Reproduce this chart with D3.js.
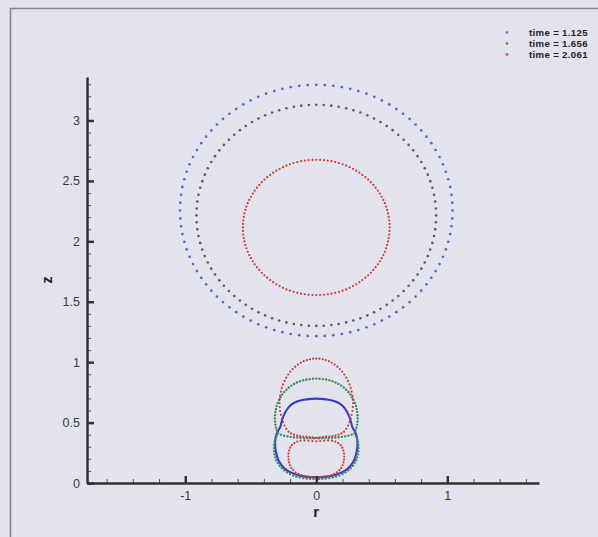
<!DOCTYPE html>
<html>
<head>
<meta charset="utf-8">
<script src="https://cdn.jsdelivr.net/npm/d3@7/dist/d3.min.js"></script>
<style>
  html, body { margin: 0; padding: 0; background: #e3e3ed; }
  svg { display: block; }
</style>
</head>
<body>
<svg id="chart" width="598" height="537"></svg>
<script>
// Interface contours (r >= 0 half; the r < 0 half is the mirror image about the axis)
const timeLabels = ["time = 1.125", "time = 1.656", "time = 2.061"];
const xTickValues = [-1, 0, 1];
const yTickValues = [0, 0.5, 1, 1.5, 2, 2.5, 3];

// time = 1.125 : outer front and near-wall bubble
const blueOuterR = [0,0.065,0.130,0.195,0.259,0.321,0.383,0.443,0.501,0.557,0.611,0.663,0.712,0.758,0.801,0.841,0.878,0.911,0.941,0.967,0.989,1.007,1.022,1.032,1.038,1.040,1.038,1.032,1.022,1.007,0.989,0.967,0.941,0.911,0.878,0.841,0.801,0.758,0.712,0.663,0.611,0.557,0.501,0.443,0.383,0.321,0.259,0.195,0.130,0.065,0];
const blueOuterZ = [3.295,3.293,3.287,3.277,3.262,3.244,3.222,3.196,3.166,3.133,3.096,3.056,3.013,2.967,2.918,2.866,2.812,2.756,2.698,2.638,2.576,2.514,2.450,2.385,2.320,2.255,2.190,2.125,2.060,1.996,1.934,1.872,1.812,1.754,1.698,1.644,1.592,1.543,1.497,1.454,1.414,1.377,1.344,1.314,1.288,1.266,1.248,1.233,1.223,1.217,1.215];
const blueInnerR = [0,0.060,0.122,0.160,0.190,0.213,0.231,0.245,0.256,0.264,0.270,0.275,0.287,0.301,0.310,0.314,0.314,0.311,0.304,0.295,0.282,0.264,0.243,0.220,0.190,0.160,0.120,0.084,0.042,0];
const blueInnerZ = [0.698,0.694,0.683,0.668,0.648,0.624,0.595,0.566,0.537,0.508,0.483,0.462,0.440,0.412,0.378,0.344,0.309,0.275,0.240,0.206,0.175,0.146,0.122,0.102,0.086,0.072,0.060,0.053,0.049,0.047];

// time = 1.656
const grayOuterR = [0,0.057,0.115,0.171,0.228,0.283,0.337,0.390,0.441,0.490,0.538,0.583,0.626,0.667,0.705,0.740,0.773,0.802,0.828,0.851,0.870,0.886,0.899,0.908,0.913,0.915,0.913,0.908,0.899,0.886,0.870,0.851,0.828,0.802,0.773,0.740,0.705,0.667,0.626,0.583,0.538,0.490,0.441,0.390,0.337,0.283,0.228,0.171,0.115,0.057,0];
const grayOuterZ = [3.130,3.128,3.123,3.114,3.101,3.085,3.066,3.043,3.017,2.988,2.955,2.920,2.882,2.841,2.798,2.753,2.705,2.656,2.605,2.552,2.498,2.443,2.386,2.330,2.272,2.215,2.158,2.100,2.044,1.987,1.932,1.878,1.825,1.774,1.725,1.677,1.632,1.589,1.548,1.510,1.475,1.442,1.413,1.387,1.364,1.345,1.329,1.316,1.307,1.302,1.300];
const greenCapR = [0,0.025,0.050,0.075,0.100,0.124,0.147,0.169,0.190,0.210,0.228,0.245,0.260,0.273,0.284,0.294,0.302,0.308,0.312,0.315,0.316,0.315,0.312,0.307,0.300,0.292,0.270,0.245,0.220,0.195,0.170,0.145,0.120,0.095,0.070,0.045,0.020];
const greenCapZ = [0.864,0.863,0.860,0.856,0.850,0.842,0.832,0.820,0.806,0.790,0.772,0.753,0.732,0.710,0.687,0.663,0.638,0.613,0.587,0.561,0.535,0.509,0.483,0.458,0.434,0.412,0.400,0.392,0.386,0.382,0.379,0.377,0.375,0.373,0.372,0.371,0.370];
const greenLoopR = [0.302,0.311,0.317,0.321,0.322,0.321,0.318,0.312,0.304,0.293,0.279,0.263,0.244,0.223,0.200,0.176,0.151,0.125,0.099,0.073,0.047,0.021];
const greenLoopZ = [0.390,0.366,0.341,0.315,0.289,0.263,0.237,0.212,0.188,0.165,0.143,0.123,0.105,0.089,0.075,0.063,0.054,0.047,0.041,0.037,0.035,0.034];

// time = 2.061
const redOuterR = [0,0.029,0.059,0.088,0.116,0.145,0.173,0.201,0.228,0.254,0.280,0.305,0.329,0.352,0.375,0.396,0.416,0.435,0.453,0.470,0.485,0.499,0.512,0.523,0.533,0.541,0.548,0.553,0.557,0.559,0.560,0.559,0.557,0.553,0.548,0.541,0.533,0.523,0.512,0.499,0.485,0.470,0.453,0.435,0.416,0.396,0.375,0.352,0.329,0.305,0.280,0.254,0.228,0.201,0.173,0.145,0.116,0.088,0.059,0.029,0];
const redOuterZ = [2.675,2.674,2.672,2.668,2.663,2.656,2.648,2.638,2.627,2.614,2.600,2.585,2.568,2.550,2.531,2.511,2.490,2.467,2.444,2.420,2.395,2.369,2.343,2.316,2.288,2.260,2.231,2.203,2.174,2.144,2.115,2.086,2.056,2.027,1.999,1.970,1.942,1.914,1.887,1.861,1.835,1.810,1.786,1.763,1.740,1.719,1.699,1.680,1.662,1.645,1.630,1.615,1.602,1.592,1.582,1.574,1.567,1.562,1.558,1.556,1.555];
const redCapR = [0,0.024,0.049,0.072,0.096,0.118,0.140,0.161,0.180,0.198,0.214,0.229,0.242,0.254,0.263,0.270,0.276,0.279,0.280,0.279,0.276,0.270,0.263,0.254,0.242,0.229,0.212,0.192,0.170,0.147,0.124,0.100,0.076,0.052,0.028,0.006];
const redCapZ = [1.030,1.029,1.024,1.017,1.008,0.995,0.980,0.963,0.943,0.922,0.898,0.872,0.845,0.816,0.787,0.756,0.724,0.692,0.660,0.628,0.596,0.564,0.533,0.504,0.475,0.448,0.425,0.410,0.400,0.393,0.388,0.385,0.383,0.381,0.378,0.374];
const redLoopR = [0,0.030,0.060,0.090,0.120,0.145,0.168,0.186,0.199,0.207,0.212,0.213,0.212,0.208,0.201,0.190,0.176,0.158,0.137,0.114,0.090,0.065,0.040,0.015];
const redLoopZ = [0.345,0.347,0.350,0.352,0.350,0.343,0.330,0.313,0.292,0.268,0.244,0.219,0.194,0.170,0.147,0.125,0.106,0.089,0.075,0.065,0.058,0.053,0.050,0.049];

const W = 598, H = 537;
const svg = d3.select("#chart");
const font = "'Liberation Sans', Arial, Helvetica, sans-serif";

const x = d3.scaleLinear().domain([-1.75, 1.70]).range([87, 539]);
const y = d3.scaleLinear().domain([0, 3.36]).range([483, 77]);

// page background and frame
svg.append("rect").attr("width", W).attr("height", H).attr("fill", "#e3e3ed");
svg.append("path").attr("d", `M10.5,${H} V8.5 H${W}`)
  .attr("fill", "none").attr("stroke", "#85858e").attr("stroke-width", 1.6);

// pair up the half contour and add its mirror image (r -> -r)
function halfPoints(rs, zs) { return rs.map((r, i) => [r, zs[i]]); }
function mirroredDots(rs, zs) {
  const pts = halfPoints(rs, zs);
  return pts.concat(pts.filter(p => p[0] > 0).map(p => [-p[0], p[1]]));
}
function closedLoop(rs, zs) {
  const pts = halfPoints(rs, zs);
  const back = pts.filter(p => p[0] > 0).reverse().map(p => [-p[0], p[1]]);
  return pts.concat(back);
}

const plot = svg.append("g");

function drawDots(pts, color, rad) {
  plot.append("g").selectAll("circle").data(pts).join("circle")
    .attr("cx", d => x(d[0])).attr("cy", d => y(d[1]))
    .attr("r", rad).attr("fill", color);
}

// time = 1.125
drawDots(mirroredDots(blueOuterR, blueOuterZ), "#6464cf", 1.35);
plot.append("path")
  .datum(closedLoop(blueInnerR, blueInnerZ))
  .attr("d", d3.line().x(d => x(d[0])).y(d => y(d[1])).curve(d3.curveCatmullRomClosed))
  .attr("fill", "none").attr("stroke", "#3a3ac4").attr("stroke-width", 2.1);

// time = 1.656
drawDots(mirroredDots(grayOuterR, grayOuterZ), "#5c5c66", 1.3);
drawDots(mirroredDots(greenCapR, greenCapZ), "#3f8a5e", 1.2);
drawDots(mirroredDots(greenLoopR, greenLoopZ), "#3f8a5e", 1.2);

// time = 2.061
drawDots(mirroredDots(redOuterR, redOuterZ), "#d43a3a", 1.1);
drawDots(mirroredDots(redCapR, redCapZ), "#d43a3a", 1.1);
drawDots(mirroredDots(redLoopR, redLoopZ), "#d43a3a", 1.1);

// axes
const axisColor = "#333";
const plainNumber = d => String(d);
function styleAxis(g) {
  g.selectAll("path.domain").attr("stroke", axisColor).attr("stroke-width", 2.5);
  g.selectAll(".tick line").attr("stroke", axisColor);
  g.selectAll(".tick text").attr("fill", "#3a3a3a").attr("font-family", font).attr("font-size", 12.5);
}

const yMinor = d3.range(1, 34).map(i => i / 10).filter(v => Math.abs(v * 2 - Math.round(v * 2)) > 1e-6);
const xMinor = d3.range(-8, 9).map(i => i / 5).filter(v => Math.abs(v - Math.round(v)) > 1e-6);

const gyMinor = svg.append("g").attr("transform", `translate(${x(-1.75)},0)`)
  .call(d3.axisLeft(y).tickValues(yMinor).tickSize(-4).tickFormat(""));
gyMinor.select("path.domain").remove();
gyMinor.selectAll(".tick line").attr("stroke", "#555").attr("stroke-width", 1);

const gxMinor = svg.append("g").attr("transform", `translate(0,${y(0)})`)
  .call(d3.axisBottom(x).tickValues(xMinor).tickSize(-4).tickFormat(""));
gxMinor.select("path.domain").remove();
gxMinor.selectAll(".tick line").attr("stroke", "#555").attr("stroke-width", 1);

const gy = svg.append("g").attr("transform", `translate(${x(-1.75)},0)`)
  .call(d3.axisLeft(y).tickValues(yTickValues).tickSize(-7).tickSizeOuter(0).tickPadding(7).tickFormat(plainNumber));
styleAxis(gy);
gy.selectAll(".tick line").attr("stroke-width", 2.5);

const gx = svg.append("g").attr("transform", `translate(0,${y(0)})`)
  .call(d3.axisBottom(x).tickValues(xTickValues).tickSize(-7).tickSizeOuter(0).tickPadding(8).tickFormat(plainNumber));
styleAxis(gx);
gx.selectAll(".tick line").attr("stroke-width", 2.5);

// axis titles
svg.append("text").attr("x", x(0)).attr("y", 517).attr("text-anchor", "middle")
  .attr("font-family", font).attr("font-size", 15).attr("font-weight", "bold").attr("fill", "#222").text("r");
svg.append("text").attr("transform", `translate(52,${(y(0) + y(3.36)) / 2}) rotate(-90)`)
  .attr("text-anchor", "middle").attr("font-family", font).attr("font-size", 14)
  .attr("font-weight", "bold").attr("fill", "#222").text("z");

// legend
const legendColors = ["#7c7cd4", "#80808a", "#e0506a"];
const legend = svg.append("g");
timeLabels.forEach((t, i) => {
  const ly = 32.5 + i * 11;
  legend.append("circle").attr("cx", 507).attr("cy", ly).attr("r", 1.4).attr("fill", legendColors[i]);
  legend.append("text").attr("x", 529).attr("y", ly + 3.2).attr("font-family", font)
    .attr("font-size", 9.6).attr("letter-spacing", 0.35).attr("font-weight", "bold")
    .attr("fill", "#222").text(t);
});
</script>
</body>
</html>
